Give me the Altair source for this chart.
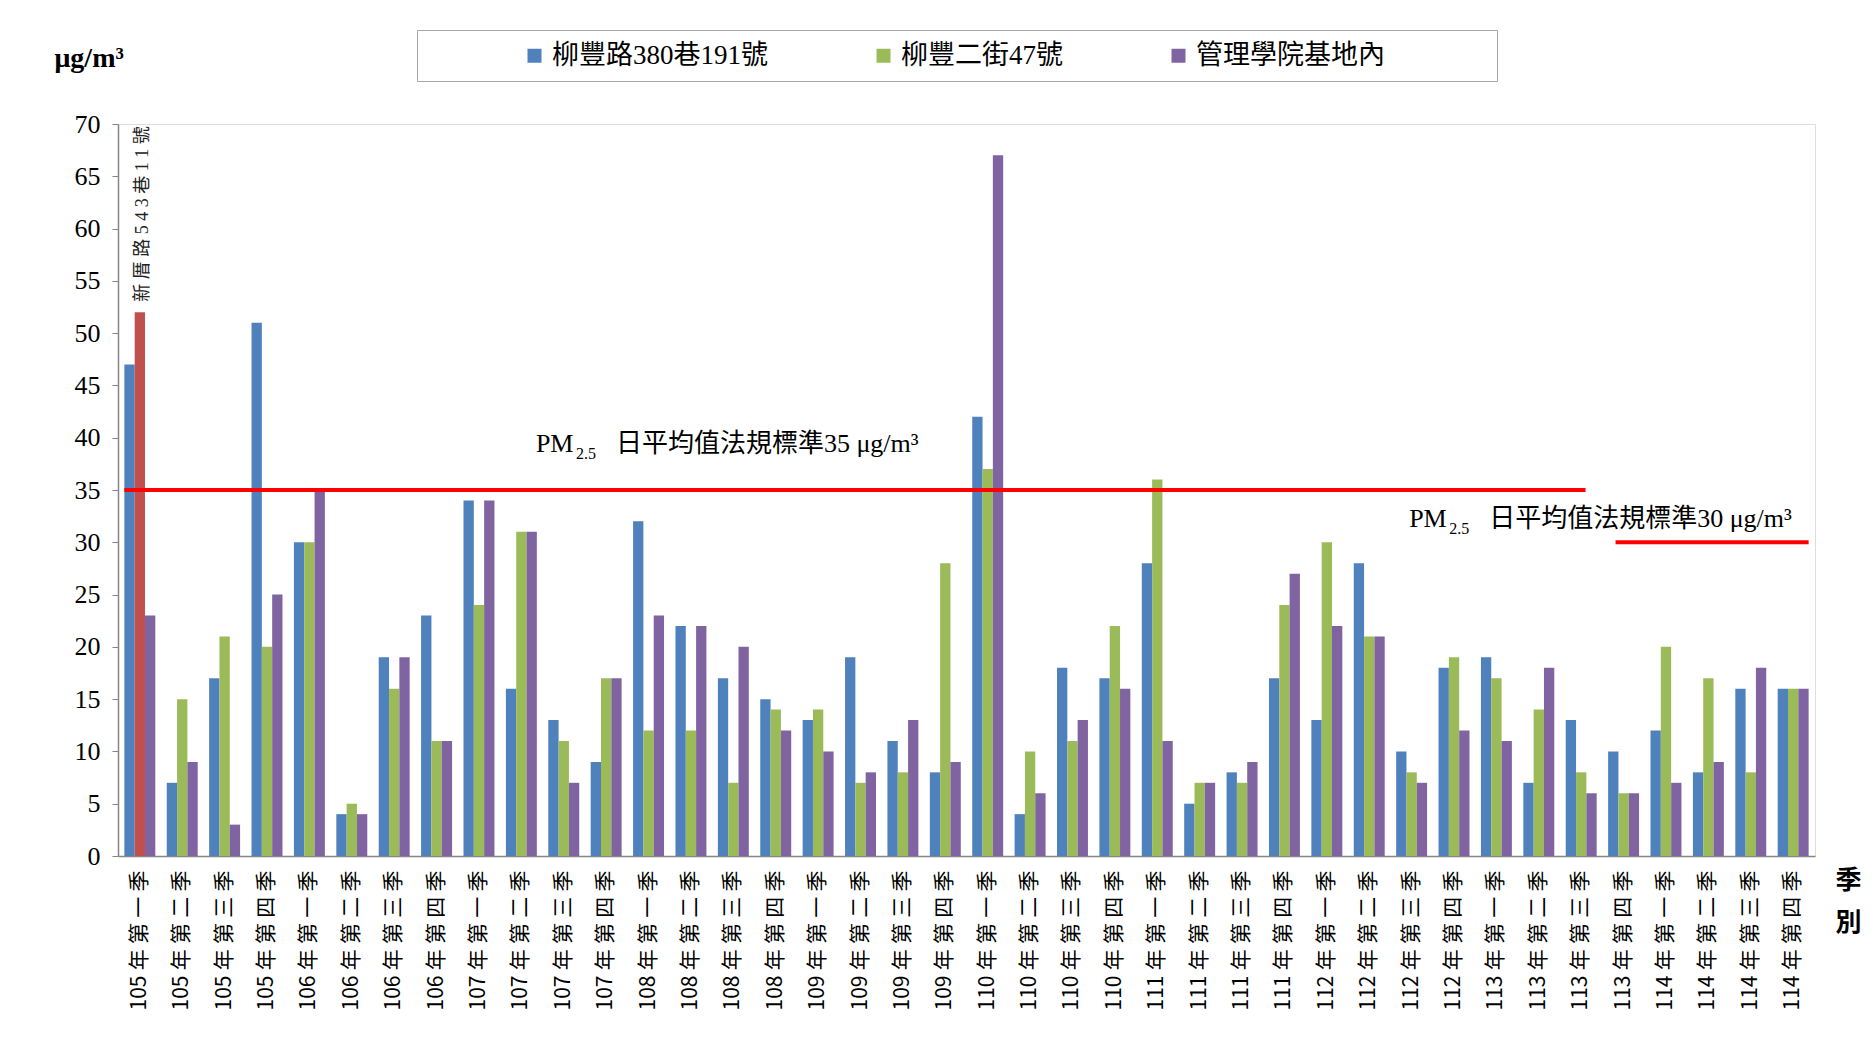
import altair as alt
import pandas as pd

# ---------------- data ----------------
years = [105, 106, 107, 108, 109, 110, 111, 112, 113, 114]
quarters = ["一", "二", "三", "四"]
categories = [f"{y}年第{q}季" for y in years for q in quarters]

series = ["柳豐路380巷191號", "柳豐二街47號", "管理學院基地內"]
extra_site = "新厝路543巷11號"   # measured in place of 柳豐二街47號 in 105年第一季

blue = [47, 7, 17, 51, 30, 4, 19, 23, 34, 16, 13, 9, 32, 22, 17, 15, 13, 19, 11, 8,
        42, 4, 18, 17, 28, 5, 8, 17, 13, 28, 10, 18, 19, 7, 13, 10, 12, 8, 16, 16]
green = [None, 15, 21, 20, 30, 5, 16, 11, 24, 31, 11, 17, 12, 12, 7, 14, 14, 7, 8, 28,
         37, 10, 11, 22, 36, 7, 7, 24, 30, 21, 8, 19, 17, 14, 8, 6, 20, 17, 8, 16]
purple = [23, 9, 3, 25, 35, 4, 19, 11, 34, 31, 7, 17, 23, 22, 20, 12, 10, 8, 13, 9,
          67, 6, 13, 16, 11, 7, 9, 27, 22, 21, 7, 12, 11, 18, 6, 6, 7, 9, 18, 16]
extra_values = {0: 52}

colors = ["#4F81BD", "#9BBB59", "#8064A2", "#C0504D"]

rows = []
for i, c in enumerate(categories):
    for s, vals in zip(series, [blue, green, purple]):
        v, key = vals[i], s
        if v is None and i in extra_values:
            v, key = extra_values[i], extra_site
        rows.append({"cat": c, "slot": s, "value": v, "key": key})
df = pd.DataFrame(rows)

SERIF = "Liberation Serif, Noto Sans CJK TC"
CJK = "Noto Sans CJK TC"
GRAY = "#868686"

xscale = alt.Scale(domain=categories, paddingInner=0.27, paddingOuter=0.15)
yscale = alt.Scale(domain=[0, 70], nice=False)

sp = "\u2005"
x_label_expr = (f"slice(datum.label,0,3) + '{sp}' + "
                f"join(split(slice(datum.label,3),''),'{sp}')")
pad = "\u2800" * 5
legend_label_expr = f"datum.label == '{series[2]}' ? datum.label + '{pad}' : datum.label"

x_axis = alt.Axis(title=["季", "別"], labelAngle=-90, labelFont=CJK,
                  labelFontSize=21, labelExpr=x_label_expr, labelPadding=14,
                  labelColor="black", labelLimit=300, ticks=False,
                  domainColor=GRAY, domainWidth=1.5,
                  titleAngle=0, titleFont=CJK, titleFontSize=26,
                  titleFontWeight="bold", titleX=1730, titleY=11,
                  titleAlign="center", titleBaseline="top",
                  titleLineHeight=42, titleColor="black")
y_axis = alt.Axis(title="μg/m³", values=list(range(0, 71, 5)),
                  labelFont="Liberation Serif", labelFontSize=26,
                  labelColor="black", labelPadding=12, tickSize=6,
                  tickColor=GRAY, domainColor=GRAY, domainWidth=1.5,
                  grid=False, titleAngle=0, titleX=-64, titleY=-58,
                  titleAlign="left", titleBaseline="alphabetic",
                  titleFont="Liberation Serif", titleFontSize=28,
                  titleFontWeight="bold", titleColor="black")

bars = alt.Chart(df).mark_bar().encode(
    x=alt.X("cat:N", scale=xscale, axis=x_axis),
    xOffset=alt.XOffset("slot:N", scale=alt.Scale(domain=series, paddingInner=0,
                                                  paddingOuter=0)),
    y=alt.Y("value:Q", scale=yscale, axis=y_axis),
    color=alt.Color("key:N",
                    scale=alt.Scale(domain=series + [extra_site], range=colors),
                    legend=alt.Legend(values=series, orient="none", legendX=299,
                                      legendY=-94, direction="horizontal",
                                      title="\u3000", titleOrient="left",
                                      titleFontSize=23, titlePadding=92,
                                      labelFont=SERIF, labelFontSize=27,
                                      labelColor="black", labelLimit=600,
                                      labelExpr=legend_label_expr,
                                      symbolType="square", symbolSize=196,
                                      symbolStrokeWidth=0, columnPadding=102,
                                      strokeColor="#A6A6A6", fillColor="white",
                                      padding=12)),
)

# standard lines (35 for older standard, 30 for new standard)
std_lines = [
    {"value": 35, "start": "105年第一季", "s_band": 0.0, "end": "113年第三季", "e_band": 0.64},
    {"value": 30, "start": "113年第四季", "s_band": 0.24, "end": "114年第四季", "e_band": 1.0},
]
rules = []
for s in std_lines:
    d = pd.DataFrame([{"start": s["start"], "end": s["end"], "value": s["value"]}])
    rules.append(
        alt.Chart(d).mark_rule(color="#FF0000", strokeWidth=4).encode(
            x=alt.X("start:N", scale=xscale, axis=x_axis, bandPosition=s["s_band"]),
            x2=alt.X2("end:N", bandPosition=s["e_band"]),
            y=alt.Y("value:Q", scale=yscale, axis=y_axis),
        )
    )

# annotation texts
annotations = [
    {"cat": "107年第二季", "dx": 30, "y": 38.6, "main": "日平均值法規標準35 μg/m³"},
    {"cat": "112年第三季", "dx": 13, "y": 31.5, "main": "日平均值法規標準30 μg/m³"},
]
ann_layers = []
for a in annotations:
    d = pd.DataFrame([{"cat": a["cat"], "y": a["y"], "pm": "PM", "sub": "2.5",
                       "main": a["main"]}])
    enc = dict(x=alt.X("cat:N", scale=xscale, axis=x_axis, bandPosition=0),
               y=alt.Y("y:Q", scale=yscale, axis=y_axis))
    ann_layers.append(alt.Chart(d).mark_text(
        align="left", baseline="alphabetic", font="Liberation Serif",
        fontSize=26, dx=a["dx"], color="black").encode(text="pm:N", **enc))
    ann_layers.append(alt.Chart(d).mark_text(
        align="left", baseline="alphabetic", font="Liberation Serif",
        fontSize=16, dx=a["dx"] + 40, dy=7, color="black").encode(text="sub:N", **enc))
    ann_layers.append(alt.Chart(d).mark_text(
        align="left", baseline="alphabetic", font=SERIF,
        fontSize=26, dx=a["dx"] + 80, color="black").encode(text="main:N", **enc))

# vertical label of the replaced site
red_df = pd.DataFrame([{"cat": categories[0], "slot": series[1], "y": 53,
                        "label": " ".join(extra_site)}])
red_label = alt.Chart(red_df).mark_text(
    angle=270, align="left", baseline="middle", font=SERIF, fontSize=18,
    dy=3, color="#222222").encode(
    x=alt.X("cat:N", scale=xscale, axis=x_axis),
    xOffset=alt.XOffset("slot:N"),
    y=alt.Y("y:Q", scale=yscale, axis=y_axis),
    text="label:N",
)

chart = alt.layer(bars, *rules, red_label, *ann_layers).properties(
    width=1697, height=732,
    padding={"left": 110, "top": 116, "right": 49, "bottom": 180},
    autosize=alt.AutoSizeParams(type="none"),
).configure_view(stroke=GRAY, strokeWidth=1.5).configure(background="white")

chart.save("out.html", embed_options={"renderer": "svg", "actions": False})
